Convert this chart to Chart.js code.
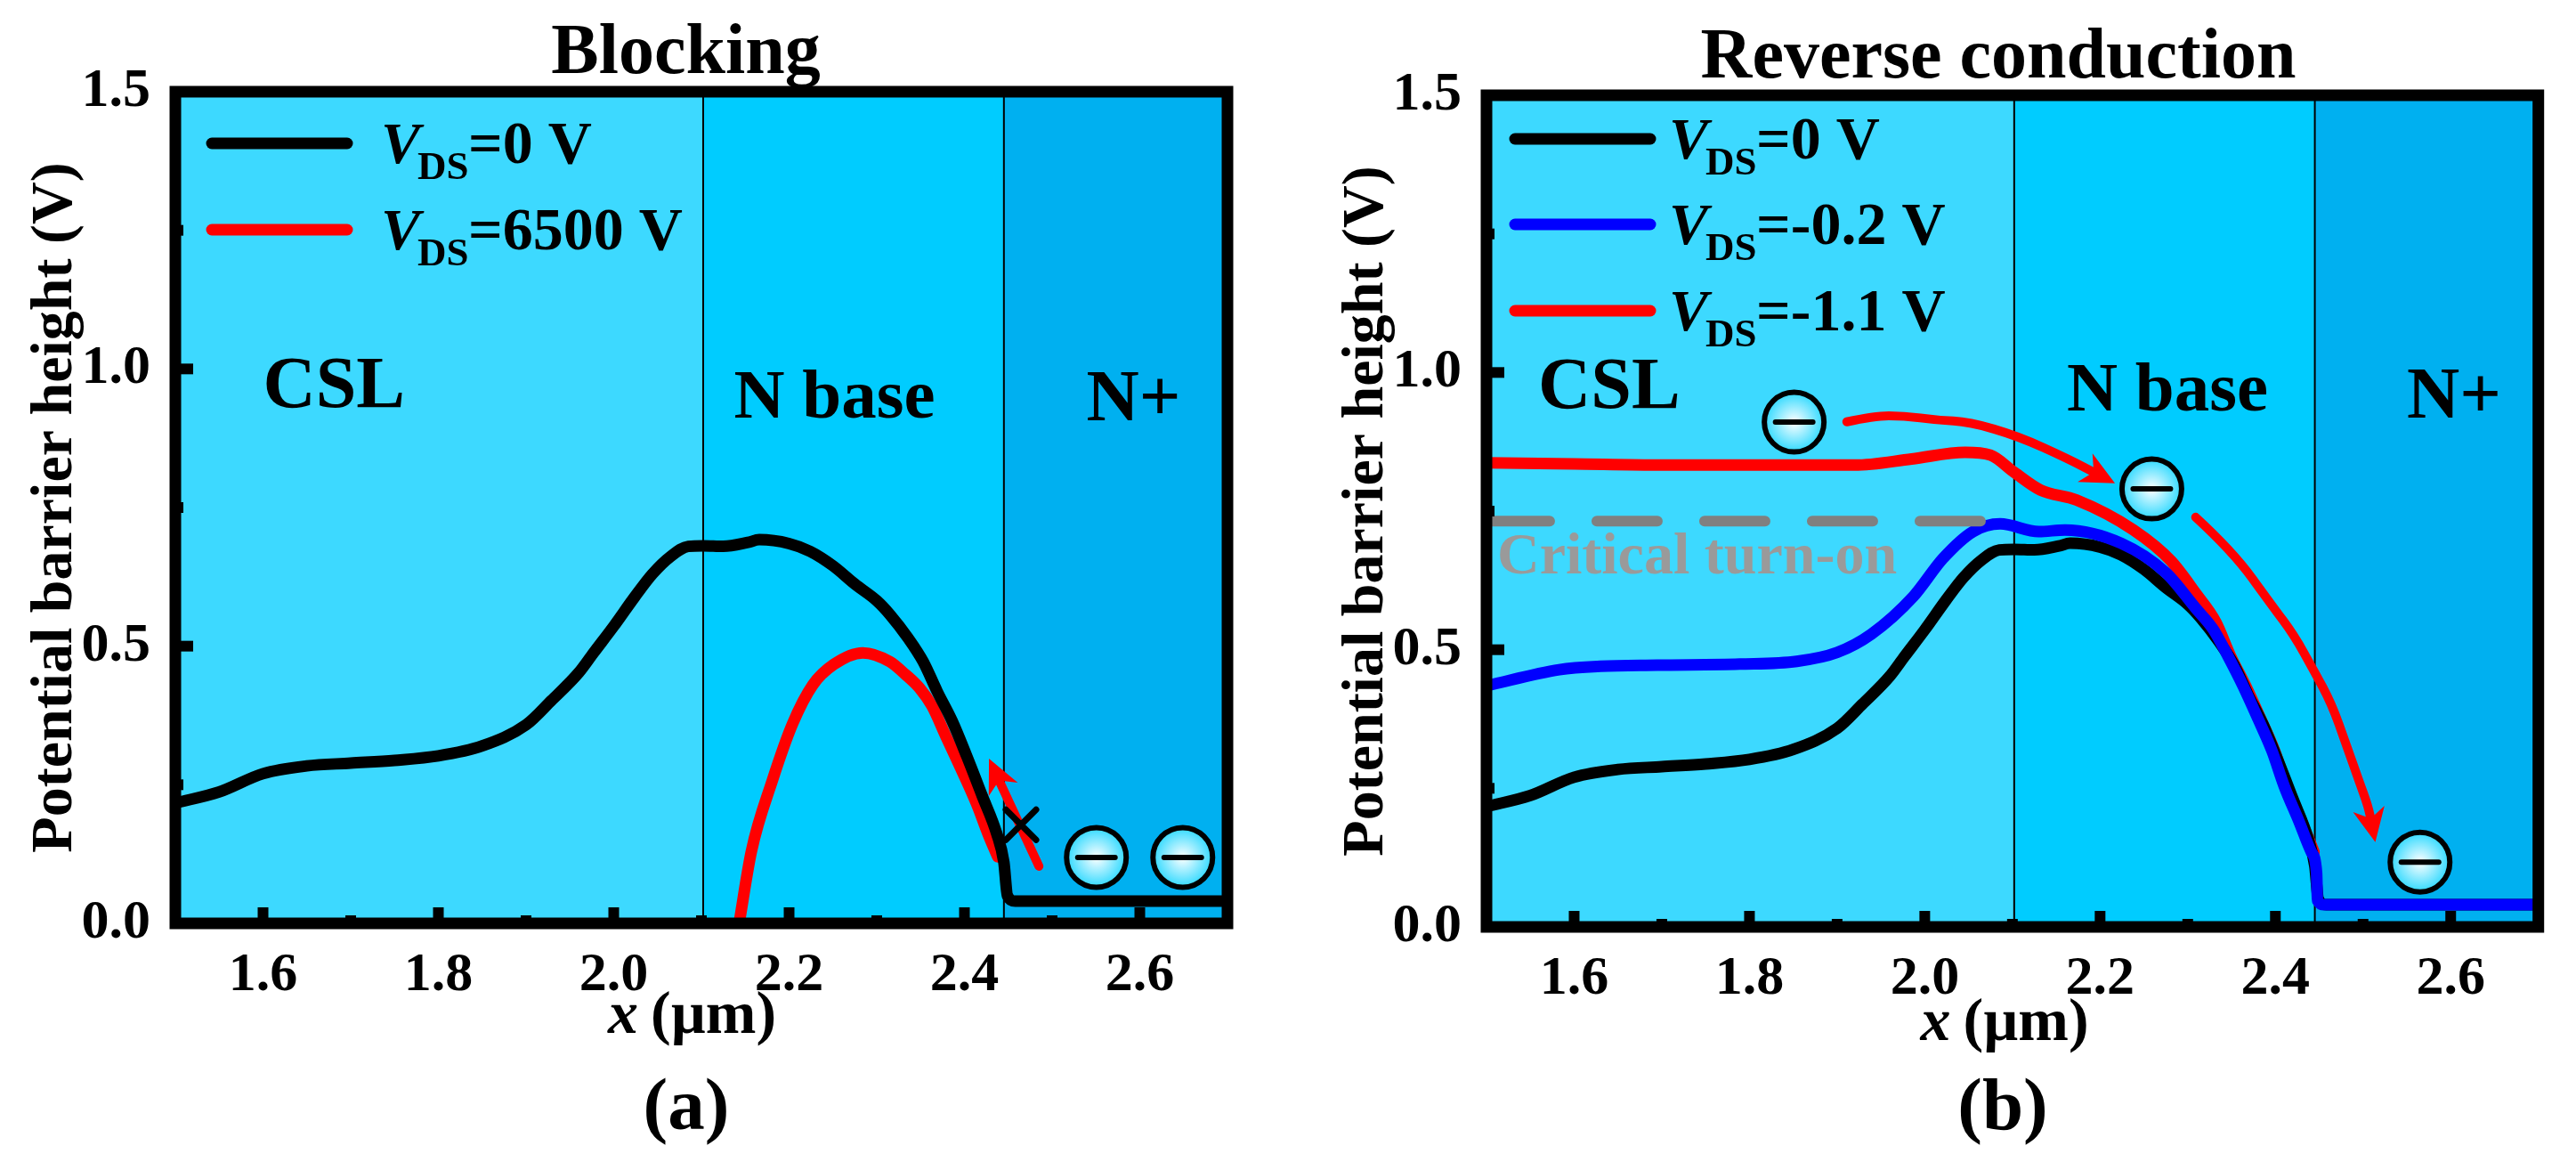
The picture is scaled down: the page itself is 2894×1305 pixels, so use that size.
<!DOCTYPE html>
<html>
<head>
<meta charset="utf-8">
<title>Potential barrier height</title>
<script src="https://cdn.jsdelivr.net/npm/chart.js@4"></script>
<style>
  html, body { margin: 0; padding: 0; background: #fff; overflow: hidden; }
  #wrap { position: relative; width: 2894px; height: 1305px; }
  canvas { position: absolute; top: 0; }
  #chart-a { left: 0; }
  #chart-b { left: 1447px; }
</style>
</head>
<body>
<div id="wrap">
  <canvas id="chart-a" width="1447" height="1305"></canvas>
  <canvas id="chart-b" width="1447" height="1305"></canvas>
</div>
<script>
/* -----------------------------------------------
   Data
------------------------------------------------ */
const xTicks = [1.6, 1.8, 2.0, 2.2, 2.4, 2.6];
const xMinor = [1.7, 1.9, 2.1, 2.3, 2.5];
const yTicks = [0, 0.5, 1.0, 1.5];
const yMinor = [0.25, 0.75, 1.25];
const regionEdges = [1.5, 2.102, 2.445, 2.7];
const regionColors = ["#3DD9FF", "#00CCFF", "#00B0F0"];

// VDS = 0 V (same curve in both panels)
const xZero = [1.5, 1.55, 1.6, 1.65, 1.7, 1.75, 1.8, 1.85, 1.9, 1.929, 1.96, 1.977, 2.0, 2.024, 2.044, 2.065, 2.085, 2.102, 2.125, 2.153, 2.166, 2.2, 2.224, 2.25, 2.275, 2.3, 2.315, 2.336, 2.353, 2.369, 2.386, 2.403, 2.42, 2.437, 2.445, 2.449, 2.458, 2.7];
const yZero = [0.217, 0.237, 0.27, 0.284, 0.289, 0.294, 0.302, 0.32, 0.358, 0.402, 0.452, 0.488, 0.536, 0.589, 0.63, 0.662, 0.68, 0.681, 0.68, 0.687, 0.692, 0.685, 0.671, 0.645, 0.612, 0.582, 0.557, 0.514, 0.472, 0.418, 0.365, 0.3, 0.231, 0.161, 0.11, 0.05, 0.04, 0.04];

// VDS = 6500 V, panel (a)
const xBlock = [2.143, 2.157, 2.181, 2.204, 2.227, 2.251, 2.284, 2.315, 2.332, 2.349, 2.363, 2.379, 2.396, 2.414, 2.427, 2.438];
const yBlock = [0, 0.13, 0.258, 0.36, 0.43, 0.467, 0.488, 0.472, 0.45, 0.424, 0.392, 0.337, 0.279, 0.215, 0.161, 0.12];

// VDS = -0.2 V, panel (b)
const xLow = [1.5, 1.583, 1.63, 1.695, 1.789, 1.854, 1.9, 1.939, 1.987, 2.021, 2.055, 2.086, 2.13, 2.16, 2.224, 2.275, 2.309, 2.329, 2.346, 2.363, 2.38, 2.396, 2.41, 2.427, 2.441, 2.447, 2.448, 2.456, 2.7];
const yLow = [0.435, 0.464, 0.47, 0.472, 0.474, 0.479, 0.495, 0.528, 0.596, 0.665, 0.713, 0.727, 0.713, 0.716, 0.692, 0.639, 0.575, 0.537, 0.488, 0.435, 0.376, 0.318, 0.254, 0.19, 0.135, 0.098, 0.048, 0.04, 0.04];

// VDS = -1.1 V, panel (b)
const xHigh = [1.5, 1.6, 1.7, 1.85, 1.92, 1.985, 2.046, 2.075, 2.102, 2.132, 2.173, 2.238, 2.281, 2.31, 2.332, 2.349, 2.366, 2.383, 2.399, 2.413, 2.43, 2.444];
const yHigh = [0.837, 0.835, 0.833, 0.833, 0.833, 0.844, 0.856, 0.851, 0.82, 0.788, 0.77, 0.716, 0.66, 0.6, 0.55, 0.488, 0.435, 0.376, 0.318, 0.254, 0.19, 0.135];

// Critical turn-on level, panel (b)
const xCritical = [1.503, 2.0655];
const yCritical = [0.732, 0.732];

// Hand drawn arrows
const arrowBlockX = [2.485, 2.428];
const arrowBlockY = [0.103, 0.297];
const arrowOverX = [1.911, 1.942, 1.976, 2.014, 2.051, 2.107, 2.164, 2.217];
const arrowOverY = [0.911, 0.922, 0.922, 0.914, 0.911, 0.885, 0.844, 0.8];
const arrowDownX = [2.309, 2.351, 2.396, 2.421, 2.444, 2.464, 2.481, 2.495, 2.506, 2.514];
const arrowDownY = [0.739, 0.678, 0.58, 0.527, 0.462, 0.403, 0.328, 0.265, 0.217, 0.153];

const SERIF = '"Liberation Serif", "Times New Roman", serif';

function zip(xs, ys) {
  return xs.map((x, i) => ({ x, y: ys[i] }));
}

function curve(label, xs, ys, color, order) {
  return {
    label,
    data: zip(xs, ys),
    borderColor: color,
    borderWidth: 13,
    borderCapStyle: "round",
    borderJoinStyle: "round",
    pointRadius: 0,
    cubicInterpolationMode: "monotone",
    order
  };
}

/* -----------------------------------------------
   Small canvas helpers
------------------------------------------------ */
function text(ctx, str, x, y, size, opts = {}) {
  ctx.font = `${opts.italic ? "italic " : ""}bold ${size}px ${SERIF}`;
  ctx.fillStyle = opts.color || "#000";
  ctx.textAlign = opts.align || "left";
  ctx.textBaseline = "alphabetic";
  ctx.fillText(str, x, y);
}

function drawArrow(ctx, pts, width) {
  const tip = pts[pts.length - 1];
  const prev = pts[pts.length - 2];
  const a = Math.atan2(tip.y - prev.y, tip.x - prev.x);
  const back = (d, s) => ({
    x: tip.x - d * Math.cos(a) - s * Math.sin(a),
    y: tip.y - d * Math.sin(a) + s * Math.cos(a)
  });

  ctx.save();
  ctx.strokeStyle = "#f00";
  ctx.fillStyle = "#f00";
  ctx.lineWidth = width;
  ctx.lineCap = "round";
  ctx.lineJoin = "round";

  // shaft: smoothed through the midpoints of the read points
  const end = back(22, 0);
  const shaft = pts.slice(0, -1).concat([end]);
  ctx.beginPath();
  ctx.moveTo(shaft[0].x, shaft[0].y);
  for (let i = 1; i < shaft.length - 1; i++) {
    const mx = (shaft[i].x + shaft[i + 1].x) / 2;
    const my = (shaft[i].y + shaft[i + 1].y) / 2;
    ctx.quadraticCurveTo(shaft[i].x, shaft[i].y, mx, my);
  }
  ctx.lineTo(end.x, end.y);
  ctx.stroke();

  const b1 = back(38, 18);
  const b2 = back(38, -18);
  const n = back(27, 0);
  ctx.beginPath();
  ctx.moveTo(tip.x, tip.y);
  ctx.lineTo(b1.x, b1.y);
  ctx.lineTo(n.x, n.y);
  ctx.lineTo(b2.x, b2.y);
  ctx.closePath();
  ctx.fill();
  ctx.restore();
}

function drawElectron(ctx, x, y) {
  ctx.save();
  const g = ctx.createRadialGradient(x, y, 0, x, y, 31);
  g.addColorStop(0, "#FFFFFF");
  g.addColorStop(1, "#3FDCFF");
  ctx.fillStyle = g;
  ctx.strokeStyle = "#000";
  ctx.lineWidth = 6;
  ctx.beginPath();
  ctx.arc(x, y, 33.5, 0, Math.PI * 2);
  ctx.fill();
  ctx.stroke();
  ctx.lineCap = "round";
  ctx.beginPath();
  ctx.moveTo(x - 21, y);
  ctx.lineTo(x + 21, y);
  ctx.stroke();
  ctx.restore();
}

/* -----------------------------------------------
   Everything the library has no option for:
   shaded regions, frame, inward ticks, legend,
   region names, arrows and electrons
------------------------------------------------ */
function panelPlugin(p) {
  return {
    id: "panel",
    beforeDatasetsDraw(chart) {
      const { ctx, chartArea: area, scales: { x } } = chart;
      regionColors.forEach((color, i) => {
        const x0 = x.getPixelForValue(regionEdges[i]);
        const x1 = x.getPixelForValue(regionEdges[i + 1]);
        ctx.fillStyle = color;
        ctx.fillRect(x0, area.top, x1 - x0, area.bottom - area.top);
      });
      ctx.fillStyle = "#000";
      [regionEdges[1], regionEdges[2]].forEach(v => {
        ctx.fillRect(x.getPixelForValue(v) - 1, area.top, 2, area.bottom - area.top);
      });
    },
    afterDatasetsDraw(chart) {
      const { ctx, chartArea: area, scales: { x, y } } = chart;

      // inward tick marks
      ctx.fillStyle = "#000";
      xTicks.forEach(v => ctx.fillRect(x.getPixelForValue(v) - 6, area.bottom - 18, 12, 18));
      xMinor.forEach(v => ctx.fillRect(x.getPixelForValue(v) - 6, area.bottom - 9, 12, 9));
      yTicks.forEach(v => ctx.fillRect(area.left, y.getPixelForValue(v) - 6, 20, 12));
      yMinor.forEach(v => ctx.fillRect(area.left, y.getPixelForValue(v) - 6, 9, 12));

      // frame
      ctx.strokeStyle = "#000";
      ctx.lineWidth = 13;
      ctx.lineJoin = "miter";
      ctx.strokeRect(area.left, area.top, area.right - area.left, area.bottom - area.top);

      // titles under and over the plot
      text(ctx, p.title, p.titleX, p.titleY, 80, { align: "center" });
      text(ctx, p.tag, p.tagX, 1268, 83, { align: "center" });
      text(ctx, "x", p.xTitleX, p.xTitleY, 68, { italic: true });
      text(ctx, " (µm)", p.xTitleX + 31, p.xTitleY, 68);

      // region names
      p.regions.forEach(r => {
        text(ctx, r.name, x.getPixelForValue(r.x), y.getPixelForValue(r.y), r.size);
      });

      // legend
      p.legend.forEach(l => {
        ctx.strokeStyle = l.color;
        ctx.lineWidth = 13;
        ctx.lineCap = "round";
        ctx.beginPath();
        ctx.moveTo(p.legendX, l.y - 22);
        ctx.lineTo(p.legendX + 152, l.y - 22);
        ctx.stroke();
        text(ctx, "V", p.legendText - 3, l.y, 66, { italic: true });
        text(ctx, "DS", p.legendText + 38, l.y + 18, 45);
        text(ctx, l.label, p.legendText + 95, l.y, 68);
      });
      ctx.lineCap = "butt";

      if (p.critical) {
        text(ctx, p.critical, p.criticalX, p.criticalY, 66, { color: "#9A9A9A" });
      }

      // arrows
      p.arrows.forEach(a => {
        drawArrow(ctx, zip(a.x, a.y).map(v => ({
          x: x.getPixelForValue(v.x),
          y: y.getPixelForValue(v.y)
        })), 10);
      });

      // blocked path mark
      if (p.cross) {
        const cx = x.getPixelForValue(p.cross[0]);
        const cy = y.getPixelForValue(p.cross[1]);
        ctx.strokeStyle = "#000";
        ctx.lineWidth = 7;
        ctx.lineCap = "round";
        ctx.beginPath();
        ctx.moveTo(cx - 17, cy - 17);
        ctx.lineTo(cx + 17, cy + 17);
        ctx.moveTo(cx + 17, cy - 17);
        ctx.lineTo(cx - 17, cy + 17);
        ctx.stroke();
        ctx.lineCap = "butt";
      }

      p.electrons.forEach(e => {
        drawElectron(ctx, x.getPixelForValue(e[0]), y.getPixelForValue(e[1]));
      });
    }
  };
}

/* -----------------------------------------------
   One panel
------------------------------------------------ */
function renderPanel(id, datasets, p) {
  return new Chart(document.getElementById(id), {
    type: "line",
    data: { datasets },
    plugins: [panelPlugin(p)],
    options: {
      responsive: false,
      animation: false,
      parsing: false,
      layout: { padding: { top: p.top, right: p.right, bottom: p.bottom, left: 0 } },
      plugins: { legend: { display: false }, title: { display: false }, tooltip: { enabled: false } },
      scales: {
        x: {
          type: "linear",
          min: 1.5,
          max: 2.7,
          grid: { display: false },
          border: { display: false },
          afterBuildTicks: s => { s.ticks = xTicks.map(value => ({ value })); },
          afterFit: s => { s.height = 100; },
          ticks: {
            color: "#000",
            padding: 20,
            maxRotation: 0,
            autoSkip: false,
            font: { family: SERIF, size: 62, weight: "bold", lineHeight: 1 },
            callback: v => Number(v).toFixed(1)
          }
        },
        y: {
          type: "linear",
          min: 0,
          max: 1.5,
          grid: { display: false },
          border: { display: false },
          afterBuildTicks: s => { s.ticks = yTicks.map(value => ({ value })); },
          afterFit: s => { s.width = p.axisWidth; },
          ticks: {
            color: "#000",
            padding: 20,
            autoSkip: false,
            font: { family: SERIF, size: 62, weight: "bold", lineHeight: 1 },
            callback: v => Number(v).toFixed(1)
          },
          title: {
            display: true,
            text: "Potential barrier height (V)",
            color: "#000",
            padding: { top: p.yTitlePad, bottom: 0 },
            font: { family: SERIF, size: 66, weight: "bold", lineHeight: 1 }
          }
        }
      }
    }
  });
}

renderPanel("chart-a", [
  curve("VDS=0 V", xZero, yZero, "#000000", 0),
  curve("VDS=6500 V", xBlock, yBlock, "#FF0000", 1)
], {
  top: 103, right: 68, bottom: 168, axisWidth: 197, yTitlePad: 30,
  title: "Blocking", titleX: 770.5, titleY: 82,
  tag: "(a)", tagX: 771,
  xTitleX: 683, xTitleY: 1160,
  legendX: 238, legendText: 431,
  legend: [
    { label: "=0 V", color: "#000000", y: 183 },
    { label: "=6500 V", color: "#FF0000", y: 280 }
  ],
  regions: [
    { name: "CSL", size: 82, x: 1.6, y: 0.931 },
    { name: "N base", size: 79, x: 2.137, y: 0.912 },
    { name: "N+", size: 82, x: 2.539, y: 0.907 }
  ],
  arrows: [{ x: arrowBlockX, y: arrowBlockY }],
  cross: [2.4645, 0.178],
  electrons: [[2.5505, 0.119], [2.649, 0.119]]
});

renderPanel("chart-b", [
  curve("VDS=0 V", xZero, yZero, "#000000", 1),
  curve("VDS=-0.2 V", xLow, yLow, "#0000FF", 0),
  curve("VDS=-1.1 V", xHigh, yHigh, "#FF0000", 2),
  {
    label: "Critical turn-on",
    data: zip(xCritical, yCritical),
    borderColor: "#808080",
    borderWidth: 12,
    borderCapStyle: "round",
    borderDash: [68, 53],
    pointRadius: 0,
    clip: false,
    order: -1
  }
], {
  top: 107, right: 42.3, bottom: 164, axisWidth: 223, yTitlePad: 56,
  title: "Reverse conduction", titleX: 798, titleY: 87,
  tag: "(b)", tagX: 803,
  xTitleX: 710.5, xTitleY: 1168,
  legendX: 255, legendText: 431,
  legend: [
    { label: "=0 V", color: "#000000", y: 178 },
    { label: "=-0.2 V", color: "#0000FF", y: 274 },
    { label: "=-1.1 V", color: "#FF0000", y: 371 }
  ],
  regions: [
    { name: "CSL", size: 82, x: 1.559, y: 0.936 },
    { name: "N base", size: 79, x: 2.162, y: 0.931 },
    { name: "N+", size: 82, x: 2.55, y: 0.918 }
  ],
  critical: "Critical turn-on", criticalX: 235, criticalY: 644,
  arrows: [
    { x: arrowOverX, y: arrowOverY },
    { x: arrowDownX, y: arrowDownY }
  ],
  electrons: [[1.851, 0.9105], [2.259, 0.79], [2.565, 0.117]]
});
</script>
</body>
</html>
